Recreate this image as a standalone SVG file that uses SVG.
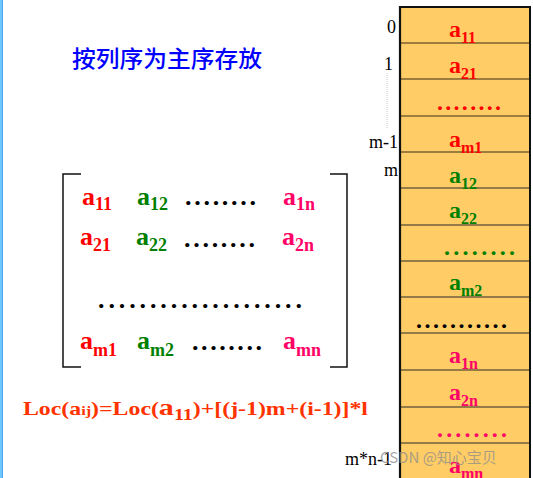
<svg xmlns="http://www.w3.org/2000/svg" width="533" height="478" viewBox="0 0 533 478">
<style>
.b{font-family:"Liberation Serif","Times New Roman",serif;font-weight:bold}
.big{font-size:24px}
.sub{font-size:16px}
.mbig{font-size:26px}
.msub{font-size:18px}
.idx{font-family:"Liberation Serif","Times New Roman",serif;font-size:18px;fill:#000}
.red{fill:#ff0000}
.grn{fill:#008000}
.pnk{fill:#ff0066}
.blk{fill:#000}
.cell{fill:#ffcc66}
.sepA{stroke:#7d6233;stroke-width:1.5}
.sepB{stroke:#2a2a2a;stroke-width:1.2}
</style>
<rect width="533" height="478" fill="#ffffff"/>
<rect x="0" y="0" width="3" height="478" fill="#70c6ff"/>
<line x1="2.5" y1="0" x2="2.5" y2="478" stroke="#4aa6f0" stroke-width="1"/>

<g id="title">
<text x="72" y="67" font-family="'Noto Sans CJK SC',sans-serif" font-size="23" font-weight="500" fill="#0000ff" textLength="190" lengthAdjust="spacingAndGlyphs">按列序为主序存放</text>
</g>

<g id="memory-column">
<rect x="400" y="7" width="130" height="472" class="cell"/>
<line x1="400" y1="43" x2="530" y2="43" class="sepA"/>
<line x1="400" y1="79" x2="530" y2="79" class="sepA"/>
<line x1="400" y1="116" x2="530" y2="116" class="sepA"/>
<line x1="400" y1="152" x2="530" y2="152" class="sepA"/>
<line x1="400" y1="188" x2="530" y2="188" class="sepB"/>
<line x1="400" y1="225" x2="530" y2="225" class="sepB"/>
<line x1="400" y1="261" x2="530" y2="261" class="sepB"/>
<line x1="400" y1="297" x2="530" y2="297" class="sepB"/>
<line x1="400" y1="333" x2="530" y2="333" class="sepB"/>
<line x1="400" y1="370" x2="530" y2="370" class="sepB"/>
<line x1="400" y1="407" x2="530" y2="407" class="sepB"/>
<line x1="400" y1="443" x2="530" y2="443" class="sepB"/>
<line x1="399" y1="7" x2="531" y2="7" stroke="#111" stroke-width="2"/>
<line x1="400" y1="6" x2="400" y2="478" stroke="#111" stroke-width="2.2"/>
<line x1="530" y1="6" x2="530" y2="478" stroke="#111" stroke-width="2"/>
</g>

<g id="column-labels">
<text x="449" y="37" class="b big red">a<tspan class="sub" dy="6">11</tspan></text>
<text x="449" y="73" class="b big red">a<tspan class="sub" dy="6">21</tspan></text>
<text x="437" y="110" class="b big red" textLength="64" lengthAdjust="spacing">........</text>
<text x="449" y="147" class="b big red">a<tspan class="sub" dy="6">m1</tspan></text>
<text x="449" y="183" class="b big grn">a<tspan class="sub" dy="6">12</tspan></text>
<text x="449" y="218" class="b big grn">a<tspan class="sub" dy="6">22</tspan></text>
<text x="444" y="255" class="b big grn" textLength="71" lengthAdjust="spacing">........</text>
<text x="449" y="290" class="b big grn">a<tspan class="sub" dy="6">m2</tspan></text>
<text x="416" y="328" class="b big blk" textLength="91" lengthAdjust="spacing">...........</text>
<text x="449" y="363" class="b big pnk">a<tspan class="sub" dy="6">1n</tspan></text>
<text x="449" y="400" class="b big pnk">a<tspan class="sub" dy="6">2n</tspan></text>
<text x="437" y="437" class="b big pnk" textLength="70" lengthAdjust="spacing">........</text>
<text x="449" y="473" class="b big pnk">a<tspan class="sub" dy="6">mn</tspan></text>
</g>

<g id="index-labels">
<text x="396" y="33" class="idx" text-anchor="end">0</text>
<text x="393" y="70" class="idx" text-anchor="end">1</text>
<line x1="387" y1="73" x2="387" y2="128" stroke="#c8c8c8" stroke-width="1" stroke-dasharray="1,1"/>
<text x="398" y="148" class="idx" text-anchor="end">m-1</text>
<text x="398" y="176" class="idx" text-anchor="end">m</text>
<text x="345" y="465" class="idx">m*n-1</text>
</g>

<g id="matrix">
<path d="M81,174 H63 V367 H81" fill="none" stroke="#111" stroke-width="1.5"/>
<path d="M330,174 H347 V367 H330" fill="none" stroke="#111" stroke-width="1.5"/>
<text x="82" y="205" class="b mbig red">a<tspan class="msub" dy="5">11</tspan></text>
<text x="137" y="205" class="b mbig grn">a<tspan class="msub" dy="5">12</tspan></text>
<text x="185" y="205" class="b mbig blk" textLength="71" lengthAdjust="spacing">........</text>
<text x="283" y="205" class="b mbig pnk">a<tspan class="msub" dy="5">1n</tspan></text>
<text x="80" y="245" class="b mbig red">a<tspan class="msub" dy="6">21</tspan></text>
<text x="136" y="245" class="b mbig grn">a<tspan class="msub" dy="6">22</tspan></text>
<text x="184" y="247" class="b mbig blk" textLength="71" lengthAdjust="spacing">........</text>
<text x="282" y="245" class="b mbig pnk">a<tspan class="msub" dy="6">2n</tspan></text>
<text x="98" y="308" class="b mbig blk" textLength="204" lengthAdjust="spacing">....................</text>
<text x="80" y="349" class="b mbig red">a<tspan class="msub" dy="7">m1</tspan></text>
<text x="137" y="349" class="b mbig grn">a<tspan class="msub" dy="7">m2</tspan></text>
<text x="192" y="350" class="b mbig blk" textLength="70" lengthAdjust="spacing">........</text>
<text x="283" y="349" class="b mbig pnk">a<tspan class="msub" dy="7">mn</tspan></text>
</g>

<g id="formula">
<text x="23" y="415" class="b" font-size="19" fill="#ff3300" textLength="345" lengthAdjust="spacingAndGlyphs">Loc(a<tspan font-size="13">ij</tspan>)=Loc(<tspan font-size="24">a</tspan><tspan font-size="16" dy="5">11</tspan><tspan dy="-5">)+[(j-1)m+(i-1)]*l</tspan></text>
</g>

<g id="connectors"></g>

<g id="watermark">
<text x="380" y="463" font-family="'Noto Sans CJK SC',sans-serif" font-size="15" fill="#8c8c8c" fill-opacity="0.75">CSDN @知心宝贝</text>
</g>
</svg>
